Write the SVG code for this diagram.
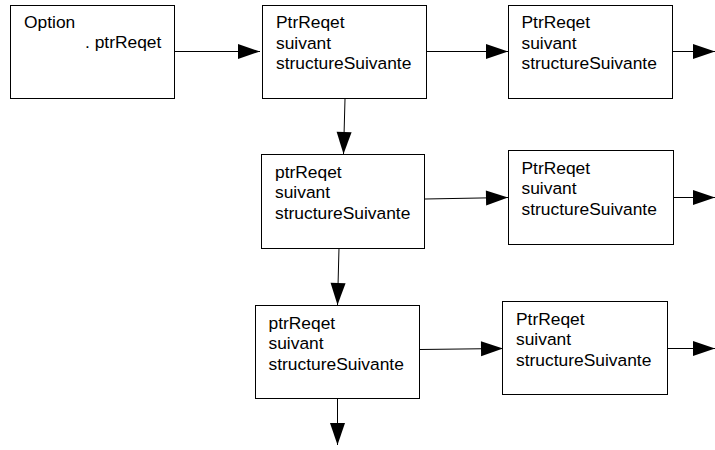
<svg xmlns="http://www.w3.org/2000/svg" width="715" height="450" viewBox="0 0 715 450">
<style>
.box{fill:#fff;stroke:#000;stroke-width:1}
.t{font-family:"Liberation Sans",Arial,sans-serif;font-size:17.4px;fill:#000}
.c{stroke:#000;stroke-width:1;fill:none;marker-end:url(#ah)}
</style>
<defs>
<marker id="ah" markerUnits="userSpaceOnUse" markerWidth="22" markerHeight="15" refX="22" refY="7.5" orient="auto" overflow="visible">
<path d="M0,0 L22,7.5 L0,15 z" fill="#000"/>
</marker>
</defs>
<rect width="715" height="450" fill="#fff"/>
<g id="connectors">
<line class="c" x1="174" y1="51.5" x2="260" y2="51.5"/>
<line class="c" x1="427" y1="51.5" x2="508" y2="51.5"/>
<line class="c" x1="673" y1="51.5" x2="715" y2="51.5"/>
<line class="c" x1="345" y1="99" x2="343.5" y2="154"/>
<line class="c" x1="425" y1="199" x2="508" y2="197.5"/>
<line class="c" x1="673" y1="197.5" x2="715" y2="197.5"/>
<line class="c" x1="339" y1="248" x2="337.5" y2="305"/>
<line class="c" x1="420" y1="349.5" x2="503" y2="348.5"/>
<line class="c" x1="668" y1="348.5" x2="715" y2="348.5"/>
<line class="c" x1="337.5" y1="399" x2="337.5" y2="445"/>
</g>
<g id="option">
<rect class="box" x="10.5" y="5.5" width="164" height="93"/>
<text class="t" x="24" y="28">Option</text>
<text class="t" x="85" y="48">. ptrReqet</text>
</g>
<g id="n1">
<rect class="box" x="262.5" y="5.5" width="164" height="93"/>
<text class="t" x="276" y="28">PtrReqet</text>
<text class="t" x="276" y="48.5">suivant</text>
<text class="t" x="276" y="69">structureSuivante</text>
</g>
<g id="n1b">
<rect class="box" x="508.5" y="5.5" width="164" height="93"/>
<text class="t" x="521.5" y="28">PtrReqet</text>
<text class="t" x="521.5" y="48.5">suivant</text>
<text class="t" x="521.5" y="69">structureSuivante</text>
</g>
<g id="n2">
<rect class="box" x="261.5" y="154.5" width="163" height="94"/>
<text class="t" x="275" y="177.5">ptrReqet</text>
<text class="t" x="275" y="198">suivant</text>
<text class="t" x="275" y="218.5">structureSuivante</text>
</g>
<g id="n2b">
<rect class="box" x="508.5" y="150.5" width="165" height="94"/>
<text class="t" x="521.5" y="173.5">PtrReqet</text>
<text class="t" x="521.5" y="194">suivant</text>
<text class="t" x="521.5" y="214.5">structureSuivante</text>
</g>
<g id="n3">
<rect class="box" x="255.5" y="305.5" width="164" height="93"/>
<text class="t" x="268.5" y="328.5">ptrReqet</text>
<text class="t" x="268.5" y="349">suivant</text>
<text class="t" x="268.5" y="369.5">structureSuivante</text>
</g>
<g id="n3b">
<rect class="box" x="502.5" y="301.5" width="165" height="93"/>
<text class="t" x="516" y="324.5">PtrReqet</text>
<text class="t" x="516" y="345">suivant</text>
<text class="t" x="516" y="365.5">structureSuivante</text>
</g>
</svg>
